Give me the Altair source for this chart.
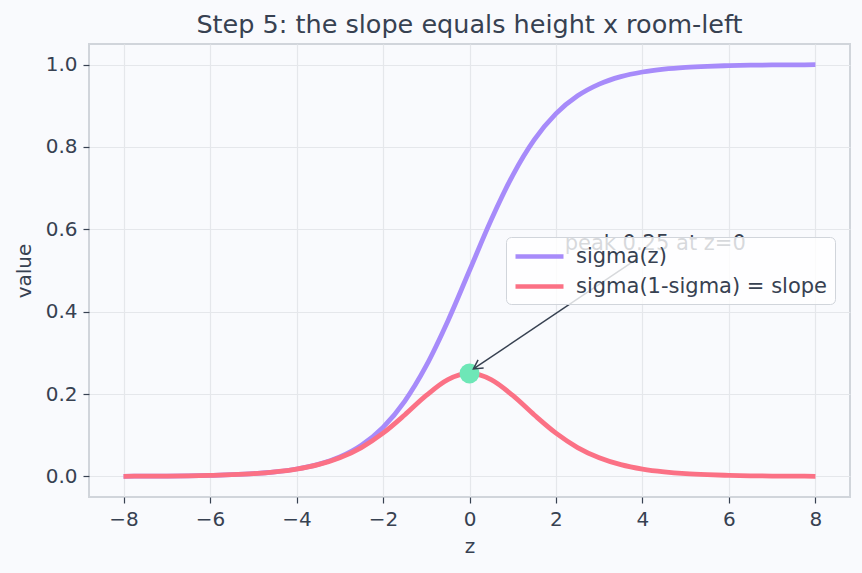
import altair as alt
import pandas as pd

# ---- data ----
z_vals = [-8.0, -7.5, -7.0, -6.5, -6.0, -5.5, -5.0, -4.5, -4.0, -3.5, -3.0, -2.5,
          -2.0, -1.5, -1.0, -0.5, 0.0, 0.5, 1.0, 1.5, 2.0, 2.5, 3.0, 3.5, 4.0,
          4.5, 5.0, 5.5, 6.0, 6.5, 7.0, 7.5, 8.0]
sigma_vals = [0.0003, 0.0006, 0.0009, 0.0015, 0.0025, 0.0041, 0.0067, 0.0110,
              0.0180, 0.0293, 0.0474, 0.0759, 0.1192, 0.1824, 0.2689, 0.3775,
              0.5000, 0.6225, 0.7311, 0.8176, 0.8808, 0.9241, 0.9526, 0.9707,
              0.9820, 0.9890, 0.9933, 0.9959, 0.9975, 0.9985, 0.9991, 0.9994,
              0.9997]
slope_vals = [0.0003, 0.0006, 0.0009, 0.0015, 0.0025, 0.0041, 0.0066, 0.0109,
              0.0177, 0.0285, 0.0452, 0.0701, 0.1050, 0.1491, 0.1966, 0.2350,
              0.2500, 0.2350, 0.1966, 0.1491, 0.1050, 0.0701, 0.0452, 0.0285,
              0.0177, 0.0109, 0.0066, 0.0041, 0.0025, 0.0015, 0.0009, 0.0006,
              0.0003]
series_names = ["sigma(z)", "sigma(1-sigma) = slope"]
series_colors = ["#a78bfa", "#fb7185"]
x_ticks = [-8, -6, -4, -2, 0, 2, 4, 6, 8]
y_ticks = [0.0, 0.2, 0.4, 0.6, 0.8, 1.0]
peak_z = [0.0]
peak_val = [0.25]
note_text = ["peak 0.25 at z=0"]
note_z = [2.2]
note_val = [0.55]
arrow_from_z = [3.9]
arrow_from_val = [0.53]
arrow_to_z = [0.09]
arrow_to_val = [0.261]

FONT = "DejaVu Sans"
TEXT = "#374151"
BG = "#f9fafd"

sig_df = pd.DataFrame({"z": z_vals, "value": sigma_vals, "series": series_names[0]})
slp_df = pd.DataFrame({"z": z_vals, "value": slope_vals, "series": series_names[1]})
peak_df = pd.DataFrame({"z": peak_z, "value": peak_val})
note_df = pd.DataFrame({"z": note_z, "value": note_val, "t": note_text})
arrow_df = pd.DataFrame({"z": arrow_from_z, "value": arrow_from_val,
                         "z2": arrow_to_z, "value2": arrow_to_val})
head_df = pd.DataFrame({"z": arrow_to_z, "value": arrow_to_val})

xscale = alt.Scale(domain=[-8.8, 8.8], nice=False, zero=False)
yscale = alt.Scale(domain=[-0.05, 1.05], nice=False, zero=False)
xaxis = alt.Axis(values=x_ticks, format="d", title="z")
yaxis = alt.Axis(values=y_ticks, format=".1f", title="value")
color = alt.Color("series:N",
                  scale=alt.Scale(domain=series_names, range=series_colors),
                  legend=alt.Legend(title=None, orient="none", legendX=417, legendY=193,
                                    symbolType="M -1 0 L 3.8 0", symbolSize=400,
                                    symbolStrokeWidth=4.5, labelFontSize=21,
                                    labelFont=FONT, labelColor=TEXT, labelOffset=38,
                                    labelLimit=400, rowPadding=7, padding=7,
                                    fillColor="rgba(255,255,255,0.8)",
                                    strokeColor="#d1d5db", cornerRadius=5))

def line(df):
    return alt.Chart(df).mark_line(strokeWidth=4.8, interpolate="monotone").encode(
        x=alt.X("z:Q", scale=xscale, axis=xaxis),
        y=alt.Y("value:Q", scale=yscale, axis=yaxis),
        color=color,
    )

note = alt.Chart(note_df).mark_text(align="left", baseline="alphabetic", fontSize=21,
                                    font=FONT, color=TEXT).encode(
    x="z:Q", y="value:Q", text="t:N")

arrow = alt.Chart(arrow_df).mark_rule(color="#374151", strokeWidth=1.5).encode(
    x="z:Q", y="value:Q", x2="z2:Q", y2="value2:Q")

head = alt.Chart(head_df).mark_point(shape="M -1 -0.55 L 0 0 L -1 0.55", filled=False,
                                     size=324, angle=146, color="#374151",
                                     strokeWidth=1.5, opacity=1).encode(
    x="z:Q", y="value:Q")

peak = alt.Chart(peak_df).mark_circle(size=400, color="#6ee7b7", opacity=1).encode(
    x="z:Q", y="value:Q")

chart = alt.layer(note, line(sig_df), line(slp_df), peak, arrow, head).properties(
    width=761, height=453,
    title=alt.Title("Step 5: the slope equals height x room-left", fontSize=25.5,
                    font=FONT, fontWeight="normal", color=TEXT, anchor="middle", offset=6),
    background=BG,
    padding={"left": 89, "top": 44, "right": 12, "bottom": 76},
    autosize=alt.AutoSizeParams(type="none"),
).configure_view(
    stroke="#d1d5db", strokeWidth=2, fill=BG
).configure_axis(
    labelFont=FONT, titleFont=FONT, labelFontSize=20, titleFontSize=20,
    labelColor=TEXT, titleColor=TEXT, titleFontWeight="normal",
    gridColor="#e5e7eb", gridWidth=1.2, domain=False,
    tickColor=TEXT, tickSize=6, tickWidth=1.2, labelPadding=6,
).configure_axisX(titlePadding=7).configure_axisY(titlePadding=11)

chart.save("out.html", embed_options={"renderer": "svg", "actions": False})
